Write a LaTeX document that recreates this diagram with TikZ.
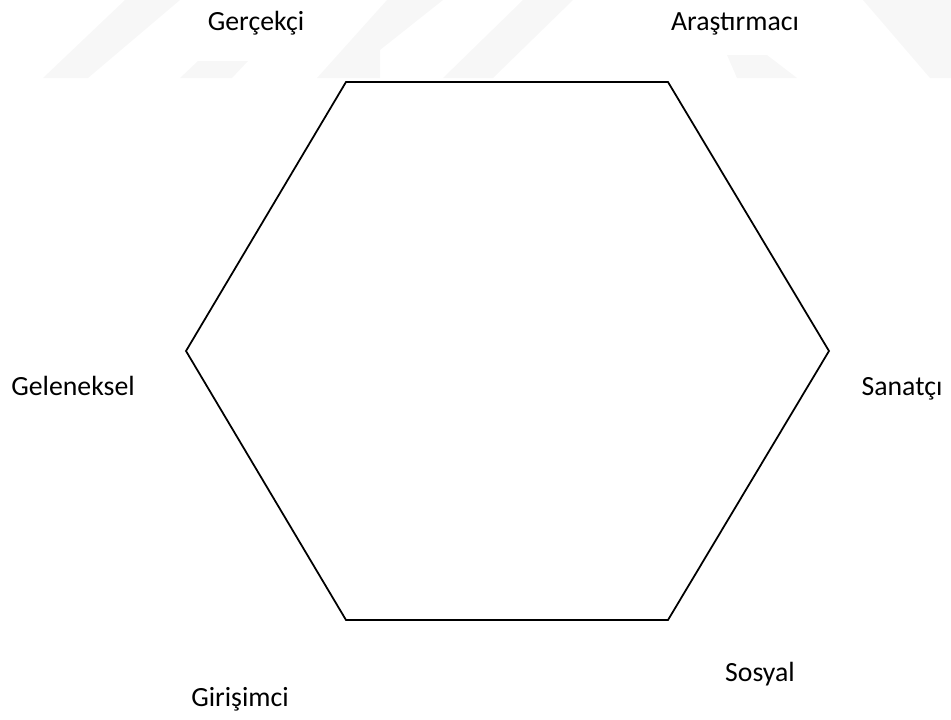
\documentclass[tikz,border=0pt]{standalone}
\usepackage{fontspec}
\setmainfont{Carlito}
\tikzset{etiket/.style={font=\fontsize{15.8}{19}\selectfont, inner sep=0pt, anchor=base}}
\begin{document}
\begin{tikzpicture}[x=0.02cm, y=-0.02cm]
    % 0. Sayfa sınırı
    \useasboundingbox (0,0) rectangle (951,720);

    % 1. Soluk filigran parçaları
    \fill[gray!6] (125,0) -- (180,0) -- (88,78) -- (43,78) -- cycle;
    \fill[gray!6] (198,61) -- (248,61) -- (232,78) -- (180,78) -- cycle;
    \fill[gray!6] (387,0) -- (443,0) -- (380,50) -- (380,78) -- (317,78) -- cycle;
    \fill[gray!6] (523,0) -- (573,0) -- (493,78) -- (443,78) -- cycle;
    \fill[gray!6] (727,55) -- (767,55) -- (797,78) -- (737,78) -- cycle;
    \fill[gray!6] (863,0) -- (951,0) -- (951,78) -- (930,78) -- cycle;

    % 2. Altıgen
    \coordinate (UL) at (346,82);
    \coordinate (UR) at (668,82);
    \coordinate (R)  at (829,351);
    \coordinate (LR) at (668,620);
    \coordinate (LL) at (346,620);
    \coordinate (L)  at (186,351);
    \draw[line width=1pt] (UL) -- (UR) -- (R) -- (LR) -- (LL) -- (L) -- cycle;

    % 3. Etiketler
    \node[etiket] (gercekci)    at (256,31)  {Gerçekçi};
    \node[etiket] (arastirmaci) at (735,31)  {Araştırmacı};
    \node[etiket] (geleneksel)  at (73,395)  {Geleneksel};
    \node[etiket] (sanatci)     at (902,395) {Sanatçı};
    \node[etiket] (sosyal)      at (760,681) {Sosyal};
    \node[etiket] (girisimci)   at (240,706) {Girişimci};
\end{tikzpicture}
\end{document}
